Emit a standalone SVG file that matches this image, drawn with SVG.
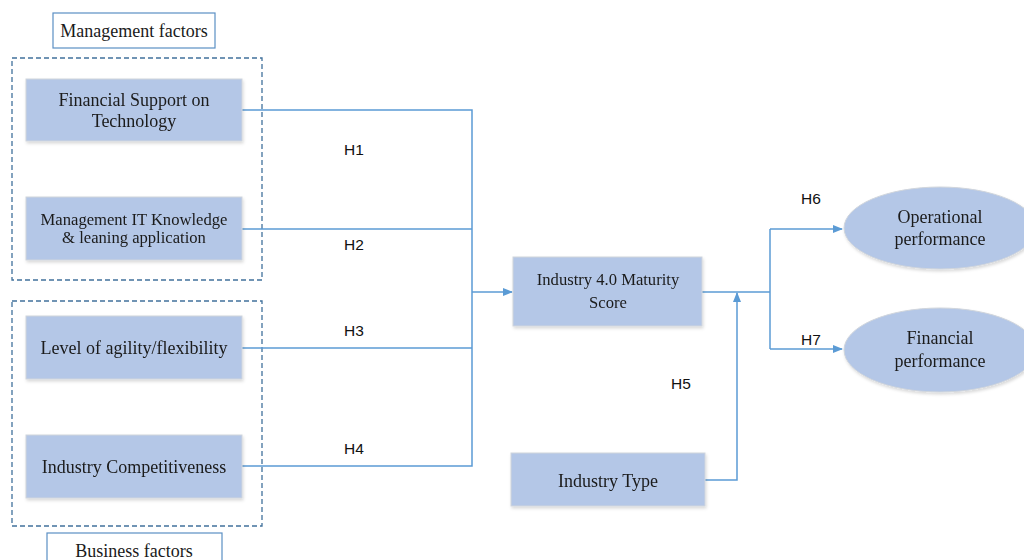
<svg xmlns="http://www.w3.org/2000/svg" width="1024" height="560" viewBox="0 0 1024 560">
<style>
.node{fill:#B4C7E7;stroke:#D0D5DC;stroke-width:1}
.lbl{fill:#fff;stroke:#5B8FC4;stroke-width:1.2}
.dash{fill:none;stroke:#41719C;stroke-width:1.3;stroke-dasharray:5,3}
.t{font-family:"Liberation Serif",serif;font-size:18px;fill:#1a1a1a;text-anchor:middle}
.s{font-size:16.6px}
.h{font-family:"Liberation Sans",sans-serif;font-size:15.5px;fill:#111;text-anchor:middle}
.c{fill:none;stroke:#5B9BD5;stroke-width:1.5}
</style>
<defs>
<marker id="arr" markerWidth="10" markerHeight="8" refX="9" refY="4" orient="auto" markerUnits="userSpaceOnUse">
<path d="M0,0 L10,4 L0,8 Z" fill="#5B9BD5"/>
</marker>
<linearGradient id="lg" x1="0" y1="0" x2="1" y2="1"><stop offset="0" stop-color="#fff"/><stop offset="1" stop-color="#EEF3FA"/></linearGradient>
<filter id="sh" x="-10%" y="-10%" width="130%" height="130%"><feDropShadow dx="1" dy="2" stdDeviation="1.5" flood-color="#000" flood-opacity="0.15"/></filter>
</defs>
<rect width="1024" height="560" fill="#fff"/>
<g id="group-management">
<rect class="dash" x="12" y="58" width="250" height="222"/>
<g id="label-management"><rect class="lbl" x="53" y="13" width="162" height="35" fill="url(#lg)"/><text class="t" x="134" y="37">Management factors</text></g>
</g>
<g id="group-business">
<rect class="dash" x="12" y="301" width="250" height="225"/>
<g id="label-business"><rect class="lbl" x="47" y="533" width="175" height="35" fill="url(#lg)"/><text class="t" x="134" y="557">Business factors</text></g>
</g>
<g id="connectors">
<polyline class="c" points="242,110 472,110 472,466 242,466"/>
<line class="c" x1="242" y1="229" x2="472" y2="229"/>
<line class="c" x1="242" y1="348" x2="472" y2="348"/>
<line class="c" x1="472" y1="292" x2="512" y2="292" marker-end="url(#arr)"/>
<line class="c" x1="702" y1="292" x2="770" y2="292"/>
<polyline class="c" points="770,229 770,349"/>
<line class="c" x1="770" y1="229" x2="842" y2="229" marker-end="url(#arr)"/>
<line class="c" x1="770" y1="349" x2="842" y2="349" marker-end="url(#arr)"/>
<polyline class="c" points="705,480 737,480 737,293" marker-end="url(#arr)"/>
<text class="h" x="354" y="155">H1</text>
<text class="h" x="354" y="250">H2</text>
<text class="h" x="354" y="336">H3</text>
<text class="h" x="354" y="454">H4</text>
<text class="h" x="681" y="389">H5</text>
<text class="h" x="811" y="204">H6</text>
<text class="h" x="811" y="345">H7</text>
</g>
<g id="financial-support" filter="url(#sh)"><rect class="node" x="26" y="79" width="216" height="62"/><text class="t" x="134" y="106">Financial Support on</text><text class="t" x="134" y="127">Technology</text></g>
<g id="management-it" filter="url(#sh)"><rect class="node" x="26" y="197" width="216" height="63"/><text class="t s" x="134" y="225">Management IT Knowledge</text><text class="t s" x="134" y="243">&amp; leaning application</text></g>
<g id="agility" filter="url(#sh)"><rect class="node" x="26" y="316" width="216" height="63"/><text class="t" x="134" y="354">Level of agility/flexibility</text></g>
<g id="competitiveness" filter="url(#sh)"><rect class="node" x="26" y="435" width="216" height="63"/><text class="t" x="134" y="473">Industry Competitiveness</text></g>
<g id="maturity" filter="url(#sh)"><rect class="node" x="513" y="257" width="189" height="69"/><text class="t s" x="608" y="285">Industry 4.0 Maturity</text><text class="t s" x="608" y="308">Score</text></g>
<g id="industry-type" filter="url(#sh)"><rect class="node" x="511" y="453" width="194" height="53"/><text class="t" x="608" y="487">Industry Type</text></g>
<g id="operational" filter="url(#sh)"><ellipse class="node" cx="940" cy="228" rx="96" ry="41"/><text class="t" x="940" y="223">Operational</text><text class="t" x="940" y="245">performance</text></g>
<g id="financial" filter="url(#sh)"><ellipse class="node" cx="940" cy="350" rx="96" ry="42"/><text class="t" x="940" y="344">Financial</text><text class="t" x="940" y="367">performance</text></g>
</svg>
